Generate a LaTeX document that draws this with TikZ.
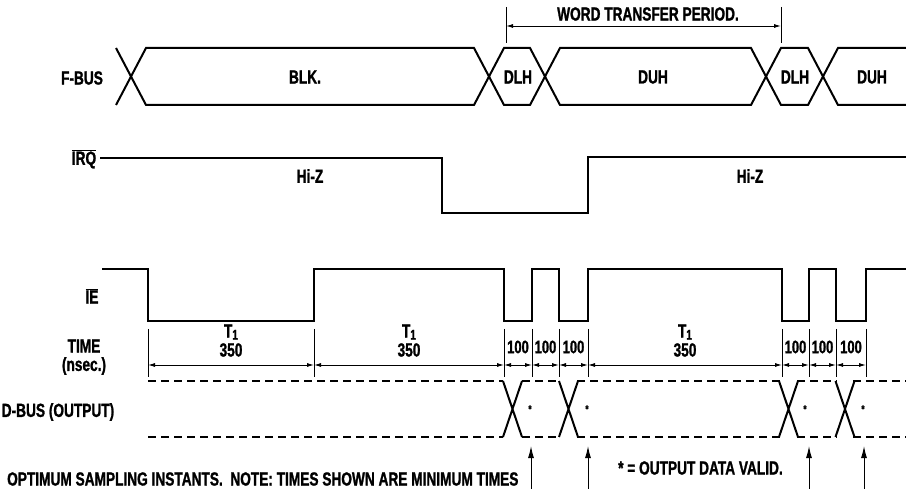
\documentclass[tikz,border=0pt]{standalone}
\usepackage{fontspec}
\setmainfont{Liberation Sans}[FakeStretch=0.72, BoldFeatures={FakeBold=1.2}]
\usetikzlibrary{arrows.meta}
\tikzset{
  sig/.style={line width=2pt, line join=miter},
  lbl/.style={font=\fontsize{19}{17}\selectfont\bfseries, inner sep=0pt, align=center},
  tickline/.style={line width=0.9pt},
  dimarr/.style={{Latex[length=7pt,width=4pt]}-{Latex[length=7pt,width=4pt]}, line width=0.9pt},
  dashsig/.style={line width=2pt, dash pattern=on 8pt off 5pt},
  samparr/.style={-{Latex[length=12pt,width=6pt]}, line width=1pt},
}
\newcommand{\barred}[1]{$\overline{\hbox{#1}}$}
\newcommand{\Tone}{T\raisebox{-0.2ex}{\fontsize{14}{14}\selectfont 1}}

\begin{document}
\begin{tikzpicture}[x=1pt, y=-1pt]
  \useasboundingbox (0,0) rectangle (906,489);
  \def\ft{48}    % F-BUS upper rail
  \def\fb{105}   % F-BUS lower rail
  \def\hi{269}   % IE high
  \def\lo{321}   % IE low
  \def\dt{381}   % D-BUS upper rail
  \def\db{437}   % D-BUS lower rail
  % signal names
  \node[lbl] (fbus) at (82,78) {F-BUS};
  \node[lbl] (irq) at (84,159) {\barred{IRQ}};
  \node[lbl] (ie) at (92,296) {\barred{IE}};
  \node[lbl] (time) at (84,346) {TIME};
  \node[lbl] (nsec) at (84,366) {(nsec.)};
  \node[lbl] (dbus) at (58,412) {D-BUS (OUTPUT)};
  % F-BUS — two zig-zag rails give the crossings
  \draw[sig] (116,\ft) -- (146,\fb) -- (474,\fb) -- (504,\ft) -- (530,\ft) -- (560,\fb)
    -- (751,\fb) -- (781,\ft) -- (808,\ft) -- (838,\fb) -- (906,\fb);
  \draw[sig] (116,\fb) -- (146,\ft) -- (474,\ft) -- (504,\fb) -- (530,\fb) -- (560,\ft)
    -- (751,\ft) -- (781,\fb) -- (808,\fb) -- (838,\ft) -- (906,\ft);
  \node[lbl] (blk) at (305,77) {BLK.};
  \node[lbl] (dlhA) at (518,77) {DLH};
  \node[lbl] (duhA) at (653,77) {DUH};
  \node[lbl] (dlhB) at (795,77) {DLH};
  \node[lbl] (duhB) at (872,77) {DUH};
  % word transfer period
  \coordinate (wl) at (506,26);
  \coordinate (wr) at (781,26);
  \draw[tickline] (506,7) -- (506,43) (781,7) -- (781,43);
  \draw[dimarr] (wl) -- (wr);
  \node[lbl] (wtp) at (648,14) {WORD TRANSFER PERIOD.};
  % IRQ
  \draw[sig] (100,158) -- (442,158) -- (442,213) -- (588,213) -- (588,157) -- (906,157);
  \node[lbl] (hizA) at (310,176) {Hi-Z};
  \node[lbl] (hizB) at (750,176) {Hi-Z};
  % IE strobes
  \draw[sig] (102,\hi) -- (148,\hi) -- (148,\lo) -- (314,\lo) -- (314,\hi) -- (504,\hi)
    -- (504,\lo) -- (532,\lo) -- (532,\hi) -- (559,\hi) -- (559,\lo) -- (588,\lo)
    -- (588,\hi) -- (782,\hi) -- (782,\lo) -- (809,\lo) -- (809,\hi) -- (836,\hi)
    -- (836,\lo) -- (866,\lo) -- (866,\hi) -- (906,\hi);
  % time scale
  \foreach \x [count=\i] in {148,314,504,532,559,588,782,809,836,866} {
    \draw[tickline] (\x,329) -- (\x,377);
    \coordinate (t\i) at (\x,365);
  }
  \foreach \i/\j in {1/2,2/3,3/4,4/5,5/6,6/7,7/8,8/9,9/10}
    \draw[dimarr] (t\i) -- (t\j);
  \foreach \x/\n in {231/A,409/B,685/C} {
    \node[lbl] (t\n) at (\x,332) {\Tone};
    \node[lbl] (d\n) at (\x,350) {350};
  }
  \foreach \x [count=\i] in {518,545.5,573.5,795.5,822.5,851}
    \node[lbl, font=\fontsize{18}{17}\selectfont\bfseries] (h\i) at (\x,347) {100};
  % D-BUS
  \foreach \a/\b in {148/503,522/560,577/780,797/837,853/906}
    \draw[dashsig] (\a,\dt) -- (\b,\dt) (\a,\db) -- (\b,\db);
  \foreach \c in {512.5,568.5,788.5,845} {
    \draw[sig] (\c-9.5,\dt) -- (\c+9.5,\db) (\c-9.5,\db) -- (\c+9.5,\dt);
  }
  \foreach \x [count=\i] in {530,587,805,863}
    \node[font=\fontsize{11}{11}\selectfont\bfseries, inner sep=0pt] (v\i) at (\x,409) {*};
  % sampling instants
  \foreach \x [count=\i] in {531,588,809,864} {
    \coordinate (sb\i) at (\x,489);
    \coordinate (st\i) at (\x,446);
    \draw[samparr] (sb\i) -- (st\i);
  }
  \node[lbl, anchor=west] (note) at (7,479)
    {OPTIMUM SAMPLING INSTANTS.\ \ NOTE: TIMES SHOWN ARE MINIMUM TIMES};
  \node[lbl, anchor=west] (valid) at (618,468) {* = OUTPUT DATA VALID.};
\end{tikzpicture}
\end{document}
